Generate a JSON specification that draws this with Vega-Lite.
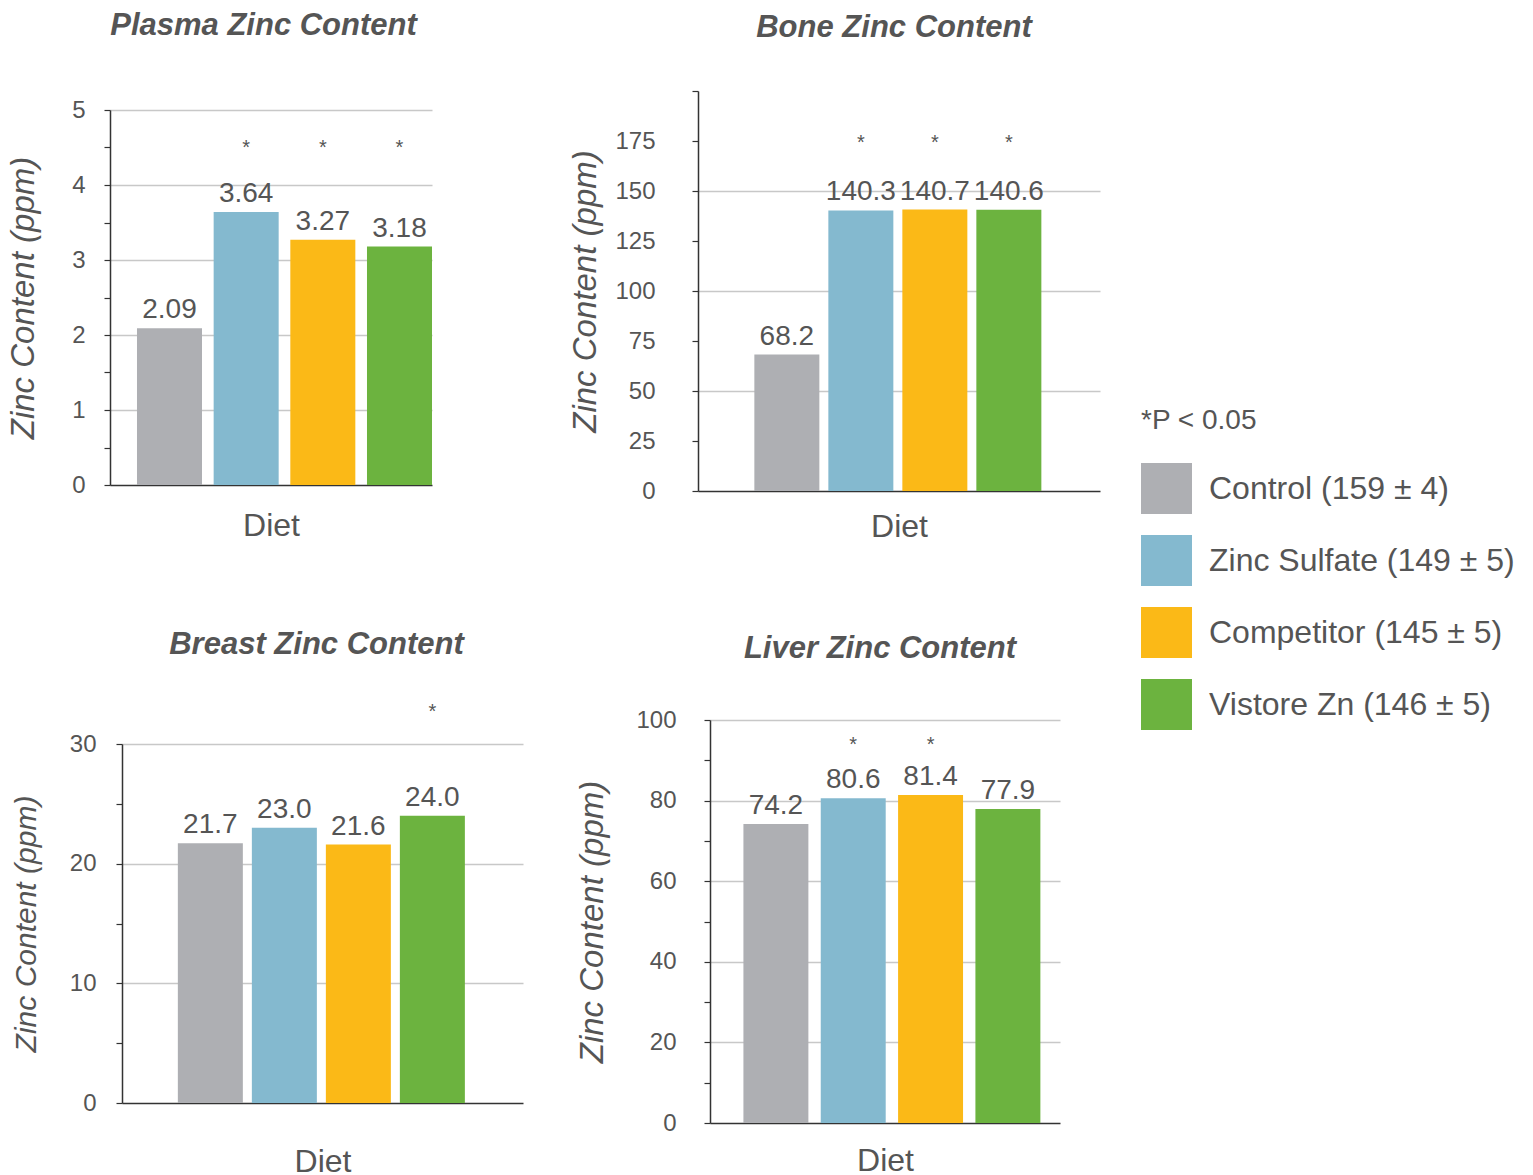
{
  "$schema": "https://vega.github.io/schema/vega-lite/v6.json",
  "padding": {"left": 7, "top": 10, "right": 0, "bottom": 0},
  "background": "white",
  "data": {"values": [
    {"tissue": "Plasma", "diet": "Control (159 ± 4)", "value": 2.09, "sig": false},
    {"tissue": "Plasma", "diet": "Zinc Sulfate (149 ± 5)", "value": 3.64, "sig": true},
    {"tissue": "Plasma", "diet": "Competitor (145 ± 5)", "value": 3.27, "sig": true},
    {"tissue": "Plasma", "diet": "Vistore Zn (146 ± 5)", "value": 3.18, "sig": true},
    {"tissue": "Bone", "diet": "Control (159 ± 4)", "value": 68.2, "sig": false},
    {"tissue": "Bone", "diet": "Zinc Sulfate (149 ± 5)", "value": 140.3, "sig": true},
    {"tissue": "Bone", "diet": "Competitor (145 ± 5)", "value": 140.7, "sig": true},
    {"tissue": "Bone", "diet": "Vistore Zn (146 ± 5)", "value": 140.6, "sig": true},
    {"tissue": "Breast", "diet": "Control (159 ± 4)", "value": 21.7, "sig": false},
    {"tissue": "Breast", "diet": "Zinc Sulfate (149 ± 5)", "value": 23.0, "sig": false},
    {"tissue": "Breast", "diet": "Competitor (145 ± 5)", "value": 21.6, "sig": false},
    {"tissue": "Breast", "diet": "Vistore Zn (146 ± 5)", "value": 24.0, "sig": true},
    {"tissue": "Liver", "diet": "Control (159 ± 4)", "value": 74.2, "sig": false},
    {"tissue": "Liver", "diet": "Zinc Sulfate (149 ± 5)", "value": 80.6, "sig": true},
    {"tissue": "Liver", "diet": "Competitor (145 ± 5)", "value": 81.4, "sig": true},
    {"tissue": "Liver", "diet": "Vistore Zn (146 ± 5)", "value": 77.9, "sig": false}
  ]},
  "resolve": {"legend": {"color": "independent"}},
  "bounds": "flush",
  "align": "each",
  "columns": 2,
  "spacing": {"row": 229, "column": 175},
  "concat": [
    {
      "width": 413, "height": 400,
      "title": {"text": "Plasma Zinc Content", "offset": 49, "dx": -53},
      "transform": [{"filter": "datum.tissue === 'Plasma'"}],
      "encoding": {
        "x": {"field": "diet", "type": "nominal", "sort": null,
          "scale": {"range": [0, 322], "paddingInner": 0.152, "paddingOuter": 0.176, "align": 1},
          "axis": {"title": "Diet", "labels": false, "ticks": false, "grid": false, "titlePadding": 25, "offset": -6}},
        "y": {"field": "value", "type": "quantitative",
          "scale": {"domain": [0, 5], "nice": false, "zero": true, "range": [394, 19]},
          "axis": {"title": "Zinc Content (ppm)", "values": [0, 0.5, 1, 1.5, 2, 2.5, 3, 3.5, 4, 4.5, 5], "format": ".0f",
            "labelExpr": "datum.value % 1 === 0 ? datum.label : ''",
            "gridOpacity": {"condition": {"test": "datum.value % 1 === 0 && datum.value > 0", "value": 1}, "value": 0},
            "labelPadding": 19, "titlePadding": 31}}
      },
      "layer": [
        {"mark": {"type": "bar"},
         "encoding": {"color": {"field": "diet", "type": "nominal", "sort": null,
           "scale": {"domain": ["Control (159 ± 4)", "Zinc Sulfate (149 ± 5)", "Competitor (145 ± 5)", "Vistore Zn (146 ± 5)"],
                     "range": ["#AEAFB3", "#84B9CF", "#FBB917", "#6CB33F"]}, "legend": null}}},
        {"mark": {"type": "text", "baseline": "alphabetic", "dy": -10, "fontSize": 28},
         "encoding": {"text": {"field": "value", "type": "quantitative", "format": ".2f"}}},
        {"transform": [{"filter": "datum.sig"}],
         "mark": {"type": "text", "baseline": "middle", "fontSize": 20},
         "encoding": {"y": {"datum": 4.5, "type": "quantitative"}, "text": {"value": "*"}}}
      ]
    },
    {
      "width": 402, "height": 400,
      "title": {"text": "Bone Zinc Content", "offset": 46, "dx": -5},
      "transform": [{"filter": "datum.tissue === 'Bone'"}],
      "encoding": {
        "x": {"field": "diet", "type": "nominal", "sort": null,
          "scale": {"paddingInner": 0.1216, "paddingOuter": 0.777, "align": 0.49},
          "axis": {"title": "Diet", "labels": false, "ticks": false, "grid": false, "titlePadding": 20}},
        "y": {"field": "value", "type": "quantitative",
          "scale": {"domain": [0, 200], "nice": false},
          "axis": {"title": "Zinc Content (ppm)", "values": [0, 25, 50, 75, 100, 125, 150, 175, 200],
            "labelExpr": "datum.value < 200 ? datum.label : ''",
            "gridOpacity": {"condition": {"test": "datum.value % 50 === 0 && datum.value > 0 && datum.value < 200", "value": 1}, "value": 0},
            "labelPadding": 37, "titlePadding": 12}}
      },
      "layer": [
        {"mark": {"type": "bar"},
         "encoding": {"color": {"field": "diet", "type": "nominal", "sort": null,
           "scale": {"domain": ["Control (159 ± 4)", "Zinc Sulfate (149 ± 5)", "Competitor (145 ± 5)", "Vistore Zn (146 ± 5)"],
                     "range": ["#AEAFB3", "#84B9CF", "#FBB917", "#6CB33F"]},
           "legend": {"orient": "none", "legendX": 443, "legendY": 316, "title": "*P < 0.05"}}}},
        {"mark": {"type": "text", "baseline": "alphabetic", "dy": -10, "fontSize": 28},
         "encoding": {"text": {"field": "value", "type": "quantitative", "format": ".1f"}}},
        {"transform": [{"filter": "datum.sig"}],
         "mark": {"type": "text", "baseline": "middle", "fontSize": 20},
         "encoding": {"y": {"datum": 174, "type": "quantitative"}, "text": {"value": "*"}}}
      ]
    },
    {
      "width": 413, "height": 403,
      "title": {"text": "Breast Zinc Content", "offset": 41},
      "transform": [{"filter": "datum.tissue === 'Breast'"}],
      "encoding": {
        "x": {"field": "diet", "type": "nominal", "sort": null,
          "scale": {"range": [12, 413], "paddingInner": 0.1216, "paddingOuter": 0.77, "align": 0.49},
          "axis": {"title": "Diet", "labels": false, "ticks": false, "grid": false, "titlePadding": 43, "offset": -20}},
        "y": {"field": "value", "type": "quantitative",
          "scale": {"domain": [0, 30], "nice": false, "range": [383, 24]},
          "axis": {"title": "Zinc Content  (ppm)", "titleFontSize": 30, "values": [0, 5, 10, 15, 20, 25, 30],
            "labelExpr": "datum.value % 10 === 0 ? datum.label : ''",
            "gridOpacity": {"condition": {"test": "datum.value % 10 === 0 && datum.value > 0", "value": 1}, "value": 0},
            "labelPadding": 20, "titlePadding": 28, "offset": -12}}
      },
      "layer": [
        {"mark": {"type": "bar"},
         "encoding": {"color": {"field": "diet", "type": "nominal", "sort": null,
           "scale": {"domain": ["Control (159 ± 4)", "Zinc Sulfate (149 ± 5)", "Competitor (145 ± 5)", "Vistore Zn (146 ± 5)"],
                     "range": ["#AEAFB3", "#84B9CF", "#FBB917", "#6CB33F"]}, "legend": null}}},
        {"mark": {"type": "text", "baseline": "alphabetic", "dy": -10, "fontSize": 28},
         "encoding": {"text": {"field": "value", "type": "quantitative", "format": ".1f"}}},
        {"transform": [{"filter": "datum.sig"}],
         "mark": {"type": "text", "baseline": "middle", "fontSize": 20},
         "encoding": {"y": {"datum": 32.7, "type": "quantitative"}, "text": {"value": "*"}}}
      ]
    },
    {
      "width": 402, "height": 403,
      "title": {"text": "Liver Zinc Content", "offset": 43, "dx": -19},
      "transform": [{"filter": "datum.tissue === 'Liver'"}],
      "encoding": {
        "x": {"field": "diet", "type": "nominal", "sort": null,
          "scale": {"range": [12, 362], "paddingInner": 0.16, "paddingOuter": 0.343, "align": 0.63},
          "axis": {"title": "Diet", "labels": false, "ticks": false, "grid": false, "titlePadding": 22}},
        "y": {"field": "value", "type": "quantitative",
          "scale": {"domain": [0, 100], "nice": false},
          "axis": {"title": "Zinc Content (ppm)", "values": [0, 10, 20, 30, 40, 50, 60, 70, 80, 90, 100],
            "labelExpr": "datum.value % 20 === 0 ? datum.label : ''",
            "gridOpacity": {"condition": {"test": "datum.value % 20 === 0 && datum.value > 0", "value": 1}, "value": 0},
            "labelPadding": 28, "titlePadding": 26, "offset": -12}}
      },
      "layer": [
        {"mark": {"type": "bar"},
         "encoding": {"color": {"field": "diet", "type": "nominal", "sort": null,
           "scale": {"domain": ["Control (159 ± 4)", "Zinc Sulfate (149 ± 5)", "Competitor (145 ± 5)", "Vistore Zn (146 ± 5)"],
                     "range": ["#AEAFB3", "#84B9CF", "#FBB917", "#6CB33F"]}, "legend": null}}},
        {"mark": {"type": "text", "baseline": "alphabetic", "dy": -10, "fontSize": 28},
         "encoding": {"text": {"field": "value", "type": "quantitative", "format": ".1f"}}},
        {"transform": [{"filter": "datum.sig"}],
         "mark": {"type": "text", "baseline": "middle", "fontSize": 20},
         "encoding": {"y": {"datum": 93.8, "type": "quantitative"}, "text": {"value": "*"}}}
      ]
    }
  ],
  "config": {
    "view": {"stroke": null},
    "font": "Liberation Sans",
    "title": {"font": "Liberation Sans", "fontSize": 31, "fontStyle": "italic", "fontWeight": "bold", "color": "#555555", "anchor": "middle", "frame": "group"},
    "axis": {
      "labelFont": "Liberation Sans", "labelFontSize": 24, "labelColor": "#555555",
      "titleFont": "Liberation Sans", "titleFontSize": 32, "titleColor": "#555555", "titleFontWeight": "normal",
      "domainColor": "#333333", "domainWidth": 1.5, "tickColor": "#333333", "tickWidth": 1.2, "tickSize": 6,
      "gridColor": "#C8C8C8", "gridWidth": 1.5
    },
    "axisY": {"titleFontStyle": "italic", "titleFontSize": 33},
    "axisX": {"titleFontStyle": "normal"},
    "text": {"font": "Liberation Sans", "color": "#555555"},
    "legend": {
      "titleFont": "Liberation Sans", "titleFontSize": 28, "titleColor": "#555555", "titleFontWeight": "normal", "titlePadding": 28,
      "labelFont": "Liberation Sans", "labelFontSize": 32, "labelColor": "#555555", "labelOffset": 17,
      "symbolType": "square", "symbolSize": 2600, "symbolStrokeWidth": 0, "symbolOpacity": 1, "rowPadding": 21, "labelLimit": 500
    }
  }
}
